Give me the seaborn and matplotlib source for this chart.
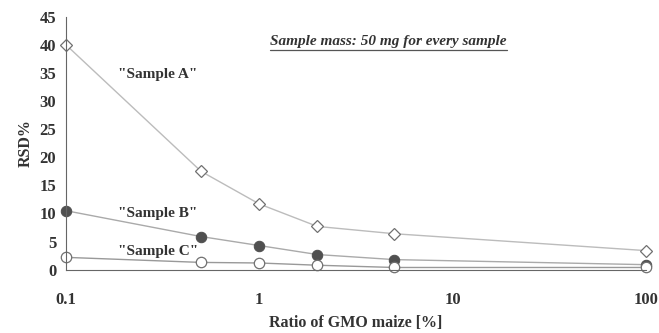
import numpy as np
import pandas as pd
import seaborn as sns
import matplotlib.pyplot as plt
from matplotlib.ticker import LogLocator, NullFormatter

# data
ratio = [0.1, 0.5, 1, 2, 5, 100]
sample_a = [40.0, 17.5, 11.7, 7.7, 6.4, 3.4]
sample_b = [10.5, 5.9, 4.3, 2.7, 1.8, 0.9]
sample_c = [2.2, 1.3, 1.2, 0.8, 0.4, 0.4]

sns.set_style("white")
plt.rcParams['font.family'] = ['Liberation Serif', 'DejaVu Serif']

fig = plt.figure(figsize=(6.59, 3.33), dpi=100)
ax = fig.add_axes([0.10, 0.19, 0.88, 0.76])

# Sample A - open diamonds, light line
sns.lineplot(x=ratio, y=sample_a, ax=ax, color="#bcbcbc", lw=1.0,
             marker="D", markersize=6.5, markerfacecolor="white",
             markeredgecolor="#707070", markeredgewidth=0.9, clip_on=False)
# Sample B - filled circles
sns.lineplot(x=ratio, y=sample_b, ax=ax, color="#aaaaaa", lw=1.0,
             marker="o", markersize=7.5, markerfacecolor="#505050",
             markeredgecolor="#505050", clip_on=False)
# Sample C - open circles
sns.lineplot(x=ratio, y=sample_c, ax=ax, color="#999999", lw=1.0,
             marker="o", markersize=7.5, markerfacecolor="white",
             markeredgecolor="#707070", markeredgewidth=0.9, clip_on=False)

ax.set_xscale("log")
ax.set_xlim(0.1, 100)
ax.set_ylim(0, 45)
ax.set_yticks(np.arange(0, 50, 5))
ax.set_xticks([0.1, 1, 10, 100])
ax.set_xticklabels(["0.1", "1", "10", "100"])
ax.xaxis.set_minor_locator(LogLocator(base=10, subs=np.arange(2, 10)))
ax.xaxis.set_minor_formatter(NullFormatter())

for s in ["top", "right"]:
    ax.spines[s].set_visible(False)
for s in ["left", "bottom"]:
    ax.spines[s].set_color("#666666")
    ax.spines[s].set_linewidth(0.8)

ax.tick_params(axis="both", which="major", labelsize=12, colors="#333333",
               length=4, width=0.8)
ax.tick_params(axis="x", which="major", direction="inout", pad=14)
ax.tick_params(axis="x", which="minor", direction="inout", length=4,
               width=0.6, colors="#888888")
ax.tick_params(axis="y", which="major", direction="out", pad=3)
for lab in ax.get_xticklabels() + ax.get_yticklabels():
    lab.set_fontweight("bold")

ax.set_xlabel("Ratio of GMO maize [%]", fontsize=11.5, fontweight="bold",
              color="#333333", labelpad=5)
ax.set_ylabel("RSD%", fontsize=11.5, fontweight="bold", color="#333333",
              labelpad=4)

ax.text(0.185, 34.7, "\"Sample A\"", fontsize=11, fontweight="bold",
        color="#333333", va="center")
ax.text(0.185, 10.0, "\"Sample B\"", fontsize=11, fontweight="bold",
        color="#333333", va="center")
ax.text(0.185, 3.2, "\"Sample C\"", fontsize=11, fontweight="bold",
        color="#333333", va="center")

note = ax.text(4.66, 40.5, "Sample mass: 50 mg for every sample", fontsize=11,
               fontweight="bold", fontstyle="italic", color="#333333",
               va="center", ha="center")

# underline matching the note's width
fig.canvas.draw()
bb = note.get_window_extent().transformed(ax.transData.inverted())
ax.plot([bb.x0, bb.x1], [bb.y0 - 0.2, bb.y0 - 0.2], color="#555555", lw=0.9)

fig.savefig("out.png", dpi=100)
